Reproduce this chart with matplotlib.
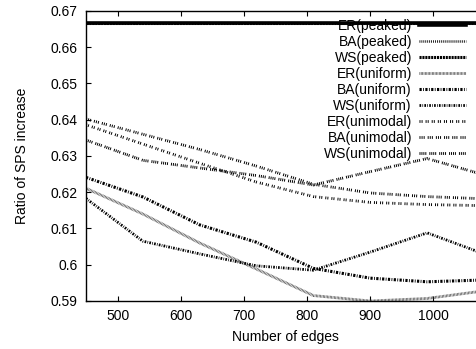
import matplotlib
matplotlib.use("Agg")
import matplotlib.pyplot as plt

plt.rcParams['font.family'] = ['Liberation Sans', 'DejaVu Sans']
plt.rcParams['lines.scale_dashes'] = False

edges = [450, 540, 630, 720, 810, 900, 990, 1080]

er_peaked = [0.6667] * 8
ba_peaked = [0.6667] * 8
ws_peaked = [0.6667] * 8
er_uniform = [0.6211, 0.6140, 0.6060, 0.5988, 0.5915, 0.5900, 0.5907, 0.5928]
ba_uniform = [0.6241, 0.6187, 0.6110, 0.6062, 0.5990, 0.5963, 0.5953, 0.5958]
ws_uniform = [0.6183, 0.6065, 0.6030, 0.5997, 0.5985, 0.6035, 0.6088, 0.6030]
er_unimodal = [0.6386, 0.6333, 0.6280, 0.6228, 0.6188, 0.6172, 0.6166, 0.6163]
ba_unimodal = [0.6402, 0.6360, 0.6318, 0.6272, 0.6222, 0.6198, 0.6188, 0.6182]
ws_unimodal = [0.6344, 0.6288, 0.6267, 0.6246, 0.6220, 0.6257, 0.6293, 0.6248]

labels = ['ER(peaked)', 'BA(peaked)', 'WS(peaked)',
          'ER(uniform)', 'BA(uniform)', 'WS(uniform)',
          'ER(unimodal)', 'BA(unimodal)', 'WS(unimodal)']
series = [er_peaked, ba_peaked, ws_peaked, er_uniform, ba_uniform, ws_uniform,
          er_unimodal, ba_unimodal, ws_unimodal]
styles = [
    dict(color='black', lw=2.6, ls='-'),
    dict(color='black', lw=1.8, ls=(0, (0.6, 0.8))),
    dict(color='black', lw=2.2, ls=(0, (1.5, 0.6))),
    dict(color='#4a4a4a', lw=2.0, ls=(0, (0.5, 0.5))),
    dict(color='black', lw=2.2, ls=(0, (1.6, 1.0, 0.6, 1.0))),
    dict(color='black', lw=2.0, ls=(0, (1.2, 0.9, 0.5, 0.9))),
    dict(color='black', lw=2.0, ls=(0, (0.7, 0.8, 0.7, 2.2))),
    dict(color='black', lw=2.0, ls=(0, (0.7, 0.8, 0.7, 0.8, 0.7, 2.2))),
    dict(color='black', lw=2.0, ls=(0, (0.7, 0.7, 0.7, 0.7, 0.7, 0.7, 0.7, 2.2))),
]

fig = plt.figure(figsize=(4.77, 3.49), dpi=100)
ax = fig.add_axes([86 / 477, 48 / 349, 398 / 477, 290 / 349])

handles = []
for lab, ys, st in zip(labels, series, styles):
    h, = ax.plot(edges, ys, label=lab, **st)
    handles.append(h)

ax.set_xlim(450, 1080)
ax.set_ylim(0.59, 0.67)
ax.set_xticks([500, 600, 700, 800, 900, 1000])
ax.set_yticks([0.59, 0.60, 0.61, 0.62, 0.63, 0.64, 0.65, 0.66, 0.67])
ax.set_yticklabels(['0.59', '0.6', '0.61', '0.62', '0.63', '0.64', '0.65', '0.66', '0.67'])
ax.tick_params(direction='in', length=3.5, width=0.8, top=True, right=True,
               labelsize=10, pad=6)
for s in ax.spines.values():
    s.set_linewidth(1.0)

ax.set_xlabel('Number of edges', fontsize=10)
ax.set_ylabel('Ratio of SPS increase', fontsize=10)
ax.xaxis.set_label_coords(0.5, -0.1)
ax.yaxis.set_label_coords(-0.143, 0.5)

ax.legend(handles=handles, loc='upper right', bbox_to_anchor=(0.955, 0.972),
          frameon=False, markerfirst=False, fontsize=10, handlelength=3.4,
          handletextpad=0.5, labelspacing=0.14, borderpad=0, borderaxespad=0)

fig.savefig('out.png', dpi=100)
